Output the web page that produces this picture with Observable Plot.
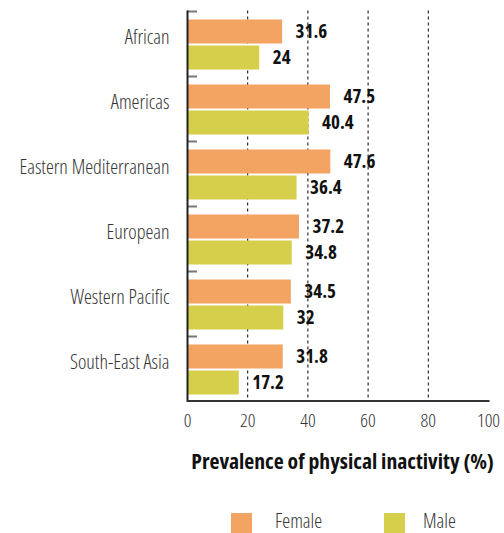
<!DOCTYPE html>
<html>
<head>
<meta charset="utf-8">
<script src="https://cdn.jsdelivr.net/npm/d3@7"></script>
<script src="https://cdn.jsdelivr.net/npm/@observablehq/plot@0.6"></script>
<style>
  html, body { margin: 0; padding: 0; background: #fff; overflow: hidden; }
  body { width: 504px; height: 533px; position: relative;
         font-family: "Open Sans", sans-serif; font-stretch: condensed; }
  #chart svg { display: block; }
  #chart svg text { font-stretch: condensed; }
  #legend { position: absolute; left: 0; top: 513px; width: 504px; height: 40px; }
  #legend .sw { position: absolute; top: 0; width: 21px; height: 21px; }
  #legend .lab { position: absolute; top: -4px; font-size: 20px; line-height: 24px; font-weight: 300; color: #333; }
</style>
</head>
<body>
<div id="chart"></div>
<div id="legend"></div>
<script>
// Prevalence of physical inactivity by WHO region and sex (%)
const regions = ["African", "Americas", "Eastern Mediterranean", "European", "Western Pacific", "South-East Asia"];
const female = [31.6, 47.5, 47.6, 37.2, 34.5, 31.8];
const male = [24, 40.4, 36.4, 34.8, 32, 17.2];
const xTicks = [0, 20, 40, 60, 80, 100];
const gridTicks = [20, 40, 60, 80];
const series = ["Female", "Male"];
const colors = ["#F3A462", "#D5CF4C"];
const axisTitle = "Prevalence of physical inactivity (%)";

const rows = regions.map((region, i) => ({region, female: female[i], male: male[i]}));

const chart = Plot.plot({
  width: 504,
  height: 500,
  marginLeft: 187,
  marginRight: 16,
  marginTop: 10.5,
  marginBottom: 99.5,
  style: {fontFamily: "'Open Sans', sans-serif", fontStretch: "condensed", background: "#fff", overflow: "visible"},
  x: {domain: [0, 100]},
  y: {domain: regions, padding: 0},
  marks: [
    // dashed reference lines behind the bars
    Plot.ruleX(gridTicks, {stroke: "#000", strokeWidth: 1, strokeDasharray: "3,3"}),
    Plot.barX(rows, {x: "female", y: "region", fill: colors[0], insetTop: 8.5, insetBottom: 32.5}),
    Plot.barX(rows, {x: "male", y: "region", fill: colors[1], insetTop: 34.5, insetBottom: 6.5}),
    Plot.text(rows, {x: "female", y: "region", text: d => String(d.female), dx: 13, dy: -12,
      textAnchor: "start", fontWeight: "bold", fontSize: 19, fill: "#111"}),
    Plot.text(rows, {x: "male", y: "region", text: d => String(d.male), dx: 13, dy: 14,
      textAnchor: "start", fontWeight: "bold", fontSize: 19, fill: "#111"}),
    // region names
    Plot.axisY({tickSize: 0, tickPadding: 18, dy: -6, fontSize: 20, fontWeight: 300, color: "#333", label: null}),
    // short boundary ticks at the top of each region, pointing into the plot
    Plot.axisY({text: null, tickSize: 10, dx: 10, dy: -32.5, stroke: "#777", strokeWidth: 2, label: null}),
    Plot.axisX({ticks: xTicks, tickSize: 0, tickPadding: 12, fontSize: 19, fontWeight: 300, color: "#333", label: null}),
    Plot.text([axisTitle], {frameAnchor: "bottom", dx: 4.5, dy: 68, fontWeight: "bold", fontSize: 21.7, fill: "#111"}),
    Plot.ruleX([0], {stroke: "#222", strokeWidth: 2}),
    Plot.frame({anchor: "bottom", stroke: "#333", strokeWidth: 2})
  ]
});
document.getElementById("chart").append(chart);

// legend below the chart
const legendPos = [{sw: 231, lab: 275}, {sw: 384, lab: 423}];
const legend = document.getElementById("legend");
series.forEach((name, i) => {
  const sw = document.createElement("span");
  sw.className = "sw";
  sw.style.left = legendPos[i].sw + "px";
  sw.style.background = colors[i];
  const lab = document.createElement("span");
  lab.className = "lab";
  lab.style.left = legendPos[i].lab + "px";
  lab.textContent = name;
  legend.append(sw, lab);
});
</script>
</body>
</html>
